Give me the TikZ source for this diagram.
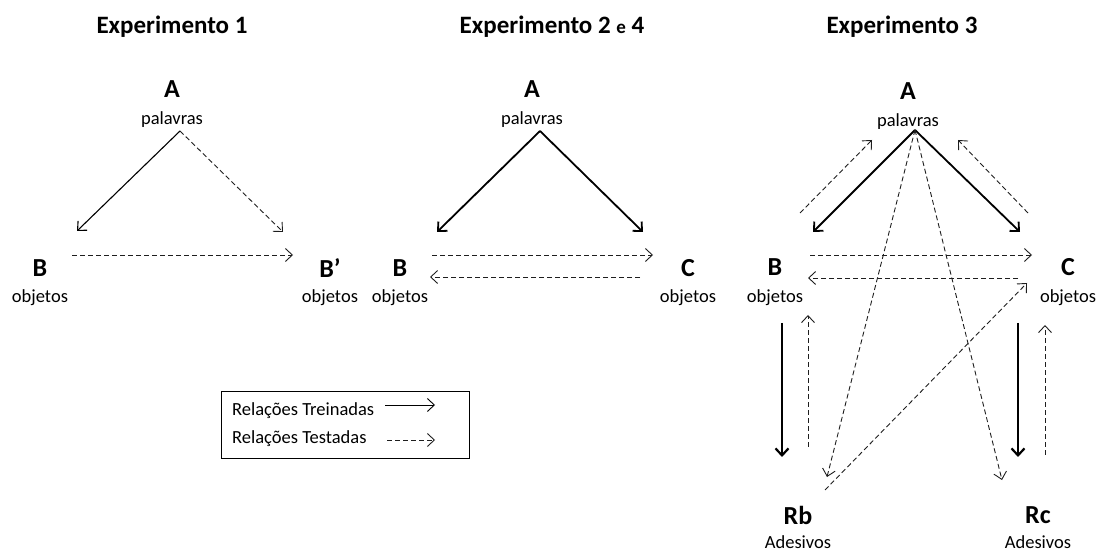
\documentclass[tikz,border=0pt]{standalone}
\usepackage{fontspec}
\setmainfont{Carlito}
\usepackage{xcolor}
\usetikzlibrary{arrows.meta,positioning,calc}
\definecolor{inkgray}{RGB}{30,30,30}
\tikzset{
    ttl/.style={font=\fontsize{25}{28}\selectfont\bfseries, inner sep=0pt},
    lbl/.style={font=\fontsize{26}{28}\selectfont\bfseries, inner sep=0pt},
    sub/.style={font=\fontsize{18.5}{22}\selectfont, inner sep=0pt},
    train/.style={-{Straight Barb[length=7pt,width=13pt]}, line width=1.1pt},
    trainthick/.style={train, line width=1.8pt},
    test/.style={-{Straight Barb[length=7pt,width=13pt]}, inkgray, line width=0.9pt, dash pattern=on 5pt off 3pt}
}
\begin{document}
\begin{tikzpicture}[x=1pt, y=-1pt]
    \useasboundingbox (0,0) rectangle (1096,553);

    % Titles
    \node[ttl] (t1) at (172,27) {Experimento 1};
    \node[ttl] (t2) at (552,27) {Experimento 2 {\fontsize{19}{20}\selectfont e} 4};
    \node[ttl] (t3) at (902,27) {Experimento 3};

    % Experimento 1
    \node[lbl] (a1) at (172,89) {A};
    \node[sub] (pa1) at (172,120) {palavras};
    \node[lbl] (b1) at (40,268) {B};
    \node[sub] (ob1) at (40,298) {objetos};
    \node[lbl] (bb1) at (330,268) {B’};
    \node[sub] (obb1) at (330,298) {objetos};

    \draw[train] ([shift={(8,11)}]pa1.center) -- ([shift={(37,-37)}]b1.center);
    \draw[test] ([shift={(8,11)}]pa1.center) -- ([shift={(-47,-36)}]bb1.center);
    \draw[test] ([shift={(32,-13)}]b1.center) -- ([shift={(-37,-13)}]bb1.center);

    % Experimento 2 e 4
    \node[lbl] (a2) at (532,89) {A};
    \node[sub] (pa2) at (532,120) {palavras};
    \node[lbl] (b2) at (400,268) {B};
    \node[sub] (ob2) at (400,298) {objetos};
    \node[lbl] (c2) at (688,268) {C};
    \node[sub] (oc2) at (688,298) {objetos};

    \draw[trainthick] ([shift={(8,11)}]pa2.center) -- ([shift={(37,-36)}]b2.center);
    \draw[trainthick] ([shift={(8,11)}]pa2.center) -- ([shift={(-45,-36)}]c2.center);
    \draw[test] ([shift={(32,-13)}]b2.center) -- ([shift={(-35,-13)}]c2.center);
    \draw[test] ([shift={(-48,9)}]c2.center) -- ([shift={(30,9)}]b2.center);

    % Experimento 3
    \node[lbl] (a3) at (908,91) {A};
    \node[sub] (pa3) at (908,122) {palavras};
    \node[lbl] (b3) at (775,267) {B};
    \node[sub] (ob3) at (775,298) {objetos};
    \node[lbl] (c3) at (1068,267) {C};
    \node[sub] (oc3) at (1068,298) {objetos};
    \node[lbl] (rb3) at (798,515) {Rb};
    \node[sub] (ad3) at (798,542) {Adesivos};
    \node[lbl] (rc3) at (1038,515) {Rc};
    \node[sub] (ae3) at (1038,542) {Adesivos};

    \draw[trainthick] ([shift={(7,8)}]pa3.center) -- ([shift={(38,-35)}]b3.center);
    \draw[trainthick] ([shift={(7,8)}]pa3.center) -- ([shift={(-48,-35)}]c3.center);
    \draw[test] ([shift={(25,-54)}]b3.center) -- ([shift={(-36,18)}]pa3.center);
    \draw[test] ([shift={(-40,-54)}]c3.center) -- ([shift={(50,18)}]pa3.center);
    \draw[test] ([shift={(35,-12)}]b3.center) -- ([shift={(-36,-12)}]c3.center);
    \draw[test] ([shift={(-50,11)}]c3.center) -- ([shift={(33,11)}]b3.center);
    \draw[test] ([shift={(7,8)}]pa3.center) -- ([shift={(29,-38)}]rb3.center);
    \draw[test] ([shift={(7,8)}]pa3.center) -- ([shift={(-36,-35)}]rc3.center);
    \draw[test] ([shift={(27,-25)}]rb3.center) -- ([shift={(-41,-15)}]oc3.center);
    \draw[trainthick, line width=2.2pt] ([shift={(7,25)}]ob3.center) -- ([shift={(-16,-58)}]rb3.center);
    \draw[test] ([shift={(10,-68)}]rb3.center) -- ([shift={(33,17)}]ob3.center);
    \draw[trainthick, line width=2.2pt] ([shift={(-50,25)}]oc3.center) -- ([shift={(-20,-58)}]rc3.center);
    \draw[test] ([shift={(7,-60)}]rc3.center) -- ([shift={(-23,27)}]oc3.center);

    % Legend
    \draw[line width=0.9pt] (221,391) rectangle (469,458);
    \node[sub, anchor=west] (tr) at (232,411) {Relações Treinadas};
    \node[sub, anchor=west] (te) at (232,439) {Relações Testadas};
    \draw[train, line width=0.9pt] (385,405) -- (435,405);
    \draw[test] (387,440) -- (435,440);
\end{tikzpicture}
\end{document}
